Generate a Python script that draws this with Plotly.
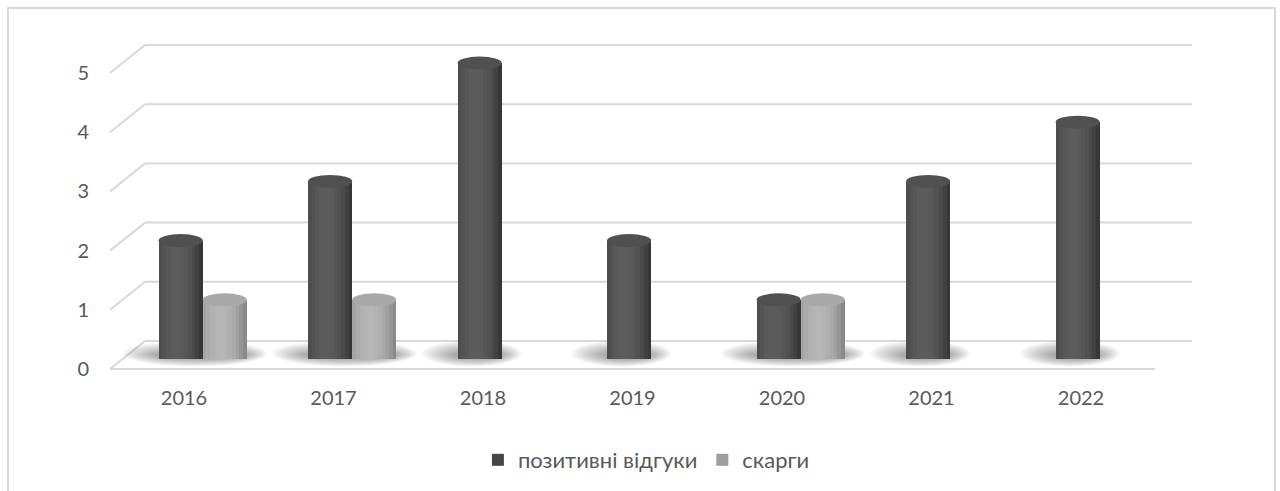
import math
import plotly.graph_objects as go

# ---- data -------------------------------------------------------------
years = ["2016", "2017", "2018", "2019", "2020", "2021", "2022"]
positive = [2, 3, 5, 2, 1, 3, 4]      # позитивні відгуки
complaints = [1, 1, 0, 0, 1, 0, 0]    # скарги
y_ticks = [0, 1, 2, 3, 4, 5]

# ---- geometry (pixel layout of the pseudo-3D frame) ---------------------
W, H = 1280, 491
X_PX0, X_STEP = 184.0, 149.5          # pixel of category 0, pixels per category
Y_PX0, Y_UNIT = 359.0, 59.2           # pixel of value 0 (mid depth), pixels per unit
PLOT_LEFT_PX, PLOT_BOTTOM_PX = 100.0, 380.0


def px_x(p):
    return (p - X_PX0) / X_STEP


def px_dy(d):
    return d / Y_UNIT


FRONT = -px_dy(10)   # front plane offset in value units
BACK = px_dy(18)     # back wall offset in value units

x_range = [px_x(PLOT_LEFT_PX), px_x(W)]
y_range = [(Y_PX0 - PLOT_BOTTOM_PX) / Y_UNIT, Y_PX0 / Y_UNIT]

TEXT = "#595959"
GRID = "#d9d9d9"
FONT = "Lato, 'Noto Sans', sans-serif"

x_idx = list(range(len(years)))

series = [
    dict(name="позитивні відгуки", values=positive, offset=-0.17, base="#454545",
         edge=46, peak=92, cap="#505050"),
    dict(name="скарги", values=complaints, offset=0.125, base="#9e9e9e",
         edge=128, peak=182, cap="#a9a9a9"),
]
BAR_W = 0.295
N_STRIPS = 12

fig = go.Figure()

for s in series:
    # solid body (also provides the legend entry)
    fig.add_trace(go.Bar(
        x=x_idx, y=s["values"], name=s["name"], offset=s["offset"], width=BAR_W,
        marker=dict(color=s["base"], line=dict(width=0)), legendgroup=s["name"],
    ))
    # vertical shading strips to give the cylinder a rounded look
    sw = BAR_W / N_STRIPS
    for k in range(N_STRIPS):
        t = (k + 0.5) / N_STRIPS
        d = (t - 0.4) / 0.62
        f = max(0.0, 1 - d * d)
        g = int(round(s["edge"] + (s["peak"] - s["edge"]) * f))
        fig.add_trace(go.Bar(
            x=x_idx, y=s["values"], offset=s["offset"] + k * sw,
            width=sw * (1.35 if k < N_STRIPS - 1 else 1.0),
            marker=dict(color=f"rgb({g},{g},{g})", line=dict(width=0)),
            showlegend=False, legendgroup=s["name"], hoverinfo="skip",
        ))

shapes = []

# back wall gridlines and the left-side diagonals
for v in y_ticks:
    shapes.append(dict(type="line", xref="x", yref="y", layer="below",
                       x0=px_x(145), x1=px_x(1192), y0=v + BACK, y1=v + BACK,
                       line=dict(color=GRID, width=2)))
    shapes.append(dict(type="line", xref="x", yref="y", layer="below",
                       x0=px_x(110), x1=px_x(145), y0=v + FRONT, y1=v + BACK,
                       line=dict(color=GRID, width=2)))
# front edge of the floor
shapes.append(dict(type="line", xref="x", yref="y", layer="below",
                   x0=px_x(110), x1=px_x(1155), y0=FRONT, y1=FRONT,
                   line=dict(color=GRID, width=2)))

# soft floor shadows under each group of cylinders (many faint layers)
N_SHADOW = 12
for i in x_idx:
    present = [s for s in series if s["values"][i] > 0]
    if not present:
        continue
    left = i + min(s["offset"] for s in present)
    right = i + max(s["offset"] for s in present) + BAR_W
    for j in range(N_SHADOW):
        q = 1 - j / (N_SHADOW - 1)          # 1 = outermost, 0 = innermost
        ex_l = 4 + 32 * q
        ex_r = 0 + 20 * q
        hh = 4 + 9 * q
        cy = px_dy(4) + px_dy(1.5) * q
        shapes.append(dict(type="circle", xref="x", yref="y", layer="below",
                           x0=left - ex_l / X_STEP, x1=right + ex_r / X_STEP,
                           y0=cy - px_dy(hh), y1=cy + px_dy(hh),
                           fillcolor="rgba(0,0,0,0.032)", line=dict(width=0)))

# elliptical tops of the cylinders
CAP = px_dy(6.5)
for s in series:
    for i, v in zip(x_idx, s["values"]):
        if v <= 0:
            continue
        shapes.append(dict(type="circle", xref="x", yref="y", layer="above",
                           x0=i + s["offset"], x1=i + s["offset"] + BAR_W,
                           y0=v - CAP, y1=v + CAP,
                           fillcolor=s["cap"], line=dict(width=0)))

# outer chart border
shapes.append(dict(type="rect", xref="paper", yref="paper",
                   x0=8 / W, x1=1275 / W, y0=-0.05, y1=1 - 8 / H,
                   line=dict(color=GRID, width=2), fillcolor="rgba(0,0,0,0)"))

fig.update_layout(
    width=W, height=H,
    margin=dict(l=0, r=0, t=0, b=0),
    paper_bgcolor="white", plot_bgcolor="white",
    barmode="overlay", bargap=0,
    font=dict(family=FONT, color=TEXT, size=20),
    shapes=shapes,
    showlegend=True,
    legend=dict(orientation="h", x=0.505, xanchor="center", y=1 - 460 / H, yanchor="middle",
                font=dict(size=22, color=TEXT), itemwidth=30, bgcolor="rgba(0,0,0,0)",
                traceorder="normal"),
    xaxis=dict(domain=[PLOT_LEFT_PX / W, 1], range=x_range, tickvals=x_idx, ticktext=years,
               showgrid=False, zeroline=False, showline=False, ticks="",
               tickfont=dict(size=20, color=TEXT), ticklabelstandoff=4, fixedrange=True),
    yaxis=dict(domain=[(H - PLOT_BOTTOM_PX) / H, 1], range=y_range, showgrid=False,
               zeroline=False, showline=False, showticklabels=False, ticks="", fixedrange=True),
    yaxis2=dict(overlaying="y", side="left", anchor="x",
                range=[y_range[0] - FRONT, y_range[1] - FRONT],
                tickvals=y_ticks, ticktext=[str(v) for v in y_ticks],
                showgrid=False, zeroline=False, showline=False, ticks="",
                tickfont=dict(size=20, color=TEXT), ticklabelstandoff=10, fixedrange=True),
)

# invisible trace that carries the front value axis
fig.add_trace(go.Scatter(x=[None], y=[None], yaxis="y2", showlegend=False, hoverinfo="skip"))

fig.write_html("out.html")
